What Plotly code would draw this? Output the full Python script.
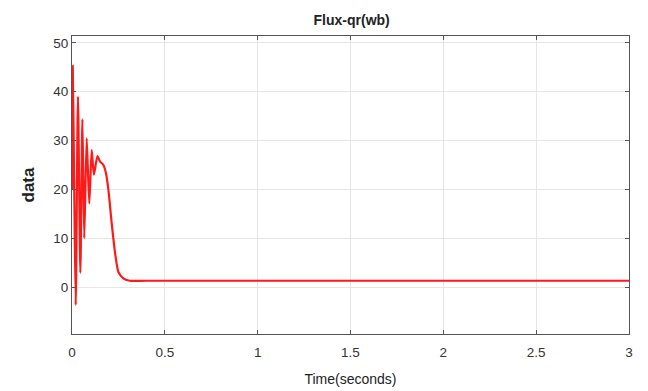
import plotly.graph_objects as go

# Time (s) and flux values
time_s = [0.0, 0.002, 0.004, 0.012, 0.020, 0.032, 0.045, 0.056, 0.066, 0.079, 0.093,
          0.106, 0.118, 0.137, 0.151, 0.169, 0.183, 0.196, 0.214, 0.232, 0.250,
          0.276, 0.310, 0.400, 1.000, 2.000, 3.000]
flux_qr = [20.0, 40.0, 45.3, 20.0, -3.7, 39.0, 2.9, 34.4, 10.0, 30.5, 17.1,
           28.1, 23.0, 26.8, 25.7, 25.0, 23.3, 19.9, 13.0, 7.0, 3.1,
           1.8, 1.3, 1.3, 1.3, 1.3, 1.3]

x_ticks = [0, 0.5, 1, 1.5, 2, 2.5, 3]
x_tick_labels = ["0", "0.5", "1", "1.5", "2", "2.5", "3"]
y_ticks = [0, 10, 20, 30, 40, 50]

FONT = "Liberation Sans, Arial"

fig = go.Figure()
fig.add_trace(go.Scatter(x=time_s, y=flux_qr, mode="lines",
                         line=dict(color="#ff1a1a", width=2.2, shape="spline", smoothing=0.6),
                         showlegend=False))

axis_common = dict(showgrid=True, gridcolor="#e6e6e6", gridwidth=1,
                   showline=True, linecolor="#555555", linewidth=1.2, mirror="ticks",
                   ticks="inside", ticklen=4, tickcolor="#555555", zeroline=False,
                   automargin=False,
                   tickfont=dict(family=FONT, size=13.5, color="#333333"))

fig.update_xaxes(range=[0, 3], tickvals=x_ticks, ticktext=x_tick_labels,
                 ticklabelstandoff=6,
                 title=dict(text="Time(seconds)", font=dict(family=FONT, size=14, color="#222222"),
                            standoff=14),
                 **axis_common)
fig.update_yaxes(range=[-9.6, 51.4], tickvals=y_ticks,
                 title=dict(text="<b>data</b>", font=dict(family=FONT, size=17, color="#222222"),
                            standoff=14),
                 **axis_common)

fig.update_layout(
    width=640, height=383,
    margin=dict(l=64, r=19, t=28, b=57),
    paper_bgcolor="white", plot_bgcolor="white",
    title=dict(text="<b>Flux-qr(wb)</b>", x=0.537, xanchor="center", y=0.968, yanchor="middle",
               automargin=False,
               font=dict(family=FONT, size=14, color="#222222")),
)

fig.write_html("out.html")
